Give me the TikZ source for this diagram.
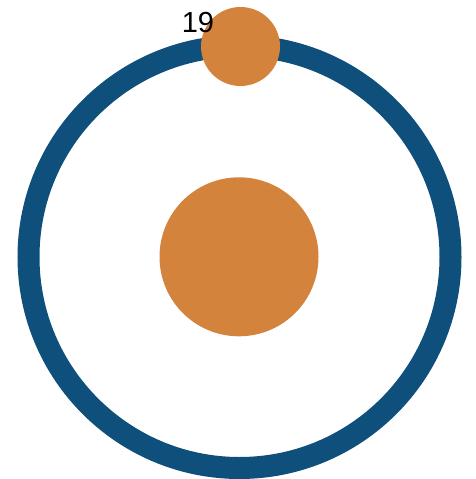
\documentclass[tikz,border=0pt]{standalone}
\usepackage{fontspec}
\setmainfont{Liberation Sans}
\definecolor{ringblue}{HTML}{0E4F7C}
\definecolor{dotorange}{HTML}{D4833C}
\begin{document}
\begin{tikzpicture}[x=1pt,y=-1pt,
  ringstyle/.style={draw=ringblue,line width=22pt},
  dotstyle/.style={circle,fill=dotorange,inner sep=0pt},
  labelstyle/.style={font=\fontsize{29}{29}\selectfont,text=black,inner sep=0pt}]
\useasboundingbox (0,0) rectangle (475,479);
\node[ringstyle,circle,minimum size=422pt,inner sep=0pt] (ring) at (239.5,257) {};
\node[dotstyle,minimum size=159pt] (center) at (239,256.8) {};
\node[dotstyle,minimum size=79pt] (moon) at (240.5,46.5) {};
\node[labelstyle] (lbl) at (198,22.5) {19};
\end{tikzpicture}
\end{document}
